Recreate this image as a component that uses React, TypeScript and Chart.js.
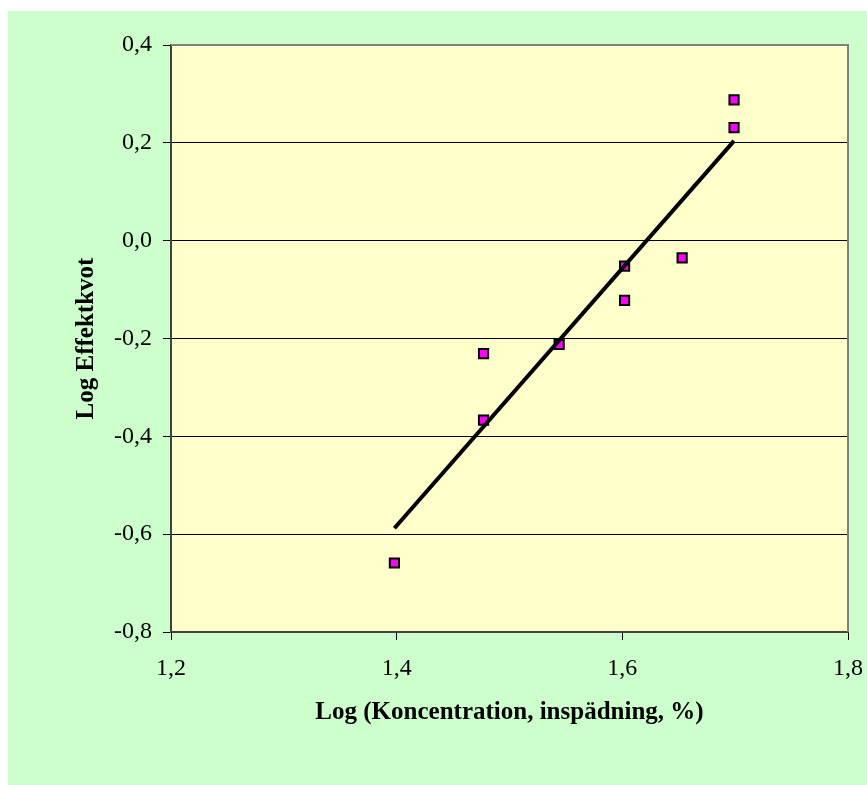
import React, { useEffect, useRef } from "react";
import { Chart, registerables } from "chart.js";

Chart.register(...registerables);

const xValues = [1.398, 1.477, 1.477, 1.544, 1.602, 1.602, 1.653, 1.699, 1.699];
const yValues = [-0.659, -0.231, -0.367, -0.212, -0.052, -0.122, -0.035, 0.231, 0.288];
const trendX = [1.398, 1.699];
const trendY = [-0.588, 0.204];
const xTitle = "Log (Koncentration, inspädning, %)";
const yTitle = "Log Effektkvot";
const xMin = 1.2, xMax = 1.8, yMin = -0.8, yMax = 0.4, step = 0.2;

const FONT = "'Liberation Serif', 'Times New Roman', serif";

const fmt = (v: number) => {
  let r = Math.round(v * 10) / 10;
  if (Object.is(r, -0)) r = 0;
  return r.toFixed(1).replace(".", ",");
};

const plotBg = {
  id: "plotBg",
  beforeDraw(chart: any) {
    const { ctx, chartArea: a } = chart;
    ctx.save();
    ctx.fillStyle = "#FFFFCC";
    ctx.fillRect(a.left, a.top, a.right - a.left, a.bottom - a.top);
    ctx.restore();
  },
  beforeDatasetsDraw(chart: any) {
    const { ctx, chartArea: a } = chart;
    ctx.save();
    ctx.strokeStyle = "#808080";
    ctx.lineWidth = 2;
    ctx.beginPath();
    ctx.moveTo(a.left, a.top);
    ctx.lineTo(a.right, a.top);
    ctx.lineTo(a.right, a.bottom);
    ctx.stroke();
    ctx.restore();
  },
};

export default function App() {
  const ref = useRef<HTMLCanvasElement>(null);
  useEffect(() => {
    if (!ref.current) return;
    const chart = new Chart(ref.current, {
      type: "scatter",
      data: {
        datasets: [
          {
            type: "line",
            label: "Trend",
            data: trendX.map((x, i) => ({ x, y: trendY[i] })),
            borderColor: "#000000",
            borderWidth: 4,
            pointRadius: 0,
            showLine: true,
            fill: false,
            order: 0,
          } as any,
          {
            label: "Data",
            data: xValues.map((x, i) => ({ x, y: yValues[i] })),
            pointStyle: "rect",
            pointRadius: 6.5,
            pointBackgroundColor: "#FF00FF",
            pointBorderColor: "#000000",
            pointBorderWidth: 2,
            order: 1,
          },
        ],
      },
      options: {
        animation: false,
        responsive: true,
        maintainAspectRatio: false,
        layout: { padding: { top: 34, right: 19, left: 0, bottom: 0 } },
        plugins: { legend: { display: false }, tooltip: { enabled: false } },
        scales: {
          x: {
            type: "linear",
            min: xMin,
            max: xMax,
            afterFit: (s: any) => {
              s.height = 153;
              s.paddingRight = 0;
              s.paddingLeft = 0;
            },
            ticks: {
              stepSize: step,
              color: "#000",
              font: { family: FONT, size: 24 },
              padding: 14,
              callback: (v: any) => fmt(Number(v)),
              maxRotation: 0,
            },
            grid: { drawOnChartArea: false, tickLength: 8, tickColor: "#000", tickWidth: 1 },
            border: { color: "#404040", width: 2 },
            title: {
              display: true,
              text: xTitle,
              color: "#000",
              font: { family: FONT, size: 25, weight: "bold" },
              padding: { top: 0, bottom: 57 },
            },
          },
          y: {
            type: "linear",
            min: yMin,
            max: yMax,
            afterFit: (s: any) => {
              s.width = 163;
              s.paddingTop = 0;
              s.paddingBottom = 0;
            },
            ticks: {
              stepSize: step,
              color: "#000",
              font: { family: FONT, size: 24 },
              padding: 11,
              callback: (v: any) => fmt(Number(v)),
            },
            grid: {
              tickLength: 8,
              tickColor: "#000",
              lineWidth: 1,
              color: (c: any) => {
                const v = c.tick ? c.tick.value : 0;
                if (Math.abs(v - yMax) < 1e-6 || Math.abs(v - yMin) < 1e-6) return "rgba(0,0,0,0)";
                return "#000";
              },
            },
            border: { color: "#404040", width: 2 },
            title: {
              display: true,
              text: yTitle,
              color: "#000",
              font: { family: FONT, size: 25, weight: "bold" },
              padding: { top: 64, bottom: 0 },
            },
          },
        },
      },
      plugins: [plotBg],
    });
    return () => chart.destroy();
  }, []);

  return (
    <div
      style={{
        position: "fixed",
        left: 8,
        top: 11,
        width: 859,
        height: 774,
        background: "#CCFFCC",
      }}
    >
      <canvas ref={ref} />
    </div>
  );
}
